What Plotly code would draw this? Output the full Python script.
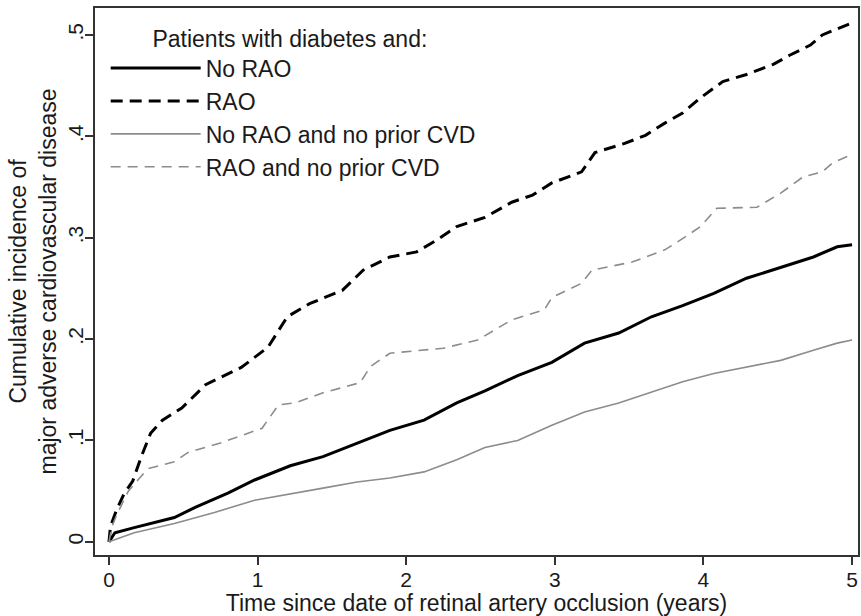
import plotly.graph_objects as go

# ---- data ----
t_norao = [0, 0.04, 0.17, 0.44, 0.58, 0.8, 0.98, 1.22, 1.44, 1.67, 1.89, 2.12, 2.34, 2.53, 2.75,
           2.98, 3.2, 3.43, 3.65, 3.86, 4.07, 4.29, 4.52, 4.74, 4.9, 5.0]
v_norao = [0, 0.009, 0.014, 0.024, 0.034, 0.048, 0.061, 0.075, 0.084, 0.097, 0.110, 0.120, 0.137,
           0.149, 0.164, 0.177, 0.196, 0.206, 0.222, 0.233, 0.245, 0.260, 0.271, 0.281, 0.291, 0.293]

t_rao = [0, 0.01, 0.05, 0.1, 0.16, 0.22, 0.28, 0.36, 0.49, 0.65, 0.89, 1.07, 1.2, 1.35, 1.57, 1.71,
         1.89, 2.07, 2.21, 2.34, 2.53, 2.71, 2.85, 2.98, 3.18, 3.27, 3.47, 3.61, 3.74, 3.86, 3.98,
         4.13, 4.29, 4.47, 4.58, 4.72, 4.80, 5.0]
v_rao = [0, 0.015, 0.031, 0.047, 0.060, 0.085, 0.107, 0.120, 0.132, 0.155, 0.172, 0.192, 0.222,
         0.235, 0.248, 0.268, 0.281, 0.286, 0.298, 0.311, 0.320, 0.335, 0.342, 0.354, 0.365, 0.384,
         0.393, 0.401, 0.413, 0.423, 0.438, 0.454, 0.461, 0.471, 0.480, 0.490, 0.500, 0.512]

t_norao_nocvd = [0, 0.17, 0.44, 0.71, 0.98, 1.22, 1.44, 1.67, 1.89, 2.12, 2.34, 2.53, 2.75, 2.98,
                 3.2, 3.43, 3.65, 3.86, 4.07, 4.29, 4.52, 4.74, 4.9, 5.0]
v_norao_nocvd = [0, 0.009, 0.018, 0.029, 0.041, 0.047, 0.053, 0.059, 0.063, 0.069, 0.081, 0.093,
                 0.100, 0.115, 0.128, 0.137, 0.148, 0.158, 0.166, 0.172, 0.179, 0.189, 0.196, 0.199]

t_rao_nocvd = [0, 0.02, 0.05, 0.13, 0.26, 0.44, 0.53, 0.76, 1.03, 1.14, 1.25, 1.44, 1.69, 1.76,
               1.89, 2.25, 2.48, 2.56, 2.71, 2.93, 2.98, 3.18, 3.25, 3.52, 3.74, 3.88, 3.98, 4.09,
               4.36, 4.52, 4.67, 4.80, 4.87, 5.0]
v_rao_nocvd = [0, 0.015, 0.026, 0.050, 0.072, 0.079, 0.088, 0.098, 0.112, 0.135, 0.137, 0.147,
               0.157, 0.173, 0.186, 0.191, 0.199, 0.206, 0.219, 0.229, 0.241, 0.255, 0.268, 0.276,
               0.288, 0.301, 0.311, 0.329, 0.330, 0.344, 0.360, 0.365, 0.374, 0.382]

x_ticks = [0, 1, 2, 3, 4, 5]
x_tick_labels = ["0", "1", "2", "3", "4", "5"]
y_ticks = [0, 0.1, 0.2, 0.3, 0.4, 0.5]
y_tick_labels = ["0", ".1", ".2", ".3", ".4", ".5"]

names = ["No RAO", "RAO", "No RAO and no prior CVD", "RAO and no prior CVD"]

FONT = "Arial, Liberation Sans, sans-serif"
FS = 23
TFS = 21

fig = go.Figure()
series = [
    (t_norao, v_norao, names[0], "#000000", 3, "solid"),
    (t_rao, v_rao, names[1], "#000000", 3, "12px,7px"),
    (t_norao_nocvd, v_norao_nocvd, names[2], "#8c8c8c", 1.6, "solid"),
    (t_rao_nocvd, v_rao_nocvd, names[3], "#8c8c8c", 1.6, "10px,7px"),
]
for i, (xs, ys, nm, col, w, dash) in enumerate(series):
    fig.add_trace(go.Scatter(x=xs, y=ys, name=nm, mode="lines",
                             line=dict(color=col, width=w, dash=dash)))

fig.update_layout(
    width=861, height=616,
    margin=dict(l=95, r=3, t=8, b=61),
    paper_bgcolor="white", plot_bgcolor="white",
    font=dict(family=FONT, size=FS, color="#1a1a1a"),
    showlegend=True,
    legend=dict(
        x=0.014, y=0.984, xanchor="left", yanchor="top",
        bgcolor="rgba(0,0,0,0)",
        font=dict(size=FS, color="#1a1a1a"),
        title=dict(text="\u00a0\u00a0\u00a0\u00a0\u00a0\u00a0\u00a0Patients with diabetes and:", side="top",
                   font=dict(size=FS)),
        itemwidth=90,
    ),
)
fig.update_xaxes(
    range=[-0.094, 5.04],
    tickvals=x_ticks, ticktext=x_tick_labels,
    ticks="outside", ticklen=8, tickwidth=1.5, tickcolor="#333",
    showline=True, linecolor="#333", linewidth=1.5, mirror=True,
    showgrid=False, zeroline=False, automargin=False,
    ticklabelstandoff=-3,
    tickfont=dict(size=TFS),
    title=dict(text="Time since date of retinal artery occlusion (years)", font=dict(size=FS), standoff=4),
)
fig.update_yaxes(
    range=[-0.013, 0.5266],
    tickvals=y_ticks, ticktext=y_tick_labels,
    ticks="outside", ticklen=8, tickwidth=1.5, tickcolor="#333",
    showline=True, linecolor="#333", linewidth=1.5, mirror=True,
    showgrid=False, zeroline=False, automargin=False,
    tickangle=-90, ticklabelstandoff=-6,
    tickfont=dict(size=TFS),
    title=dict(text="Cumulative incidence of<br>major adverse cardiovascular disease", font=dict(size=FS), standoff=1),
)

fig.write_html("out.html", config={"displayModeBar": False},
               post_script="document.body.style.margin='0px';")
